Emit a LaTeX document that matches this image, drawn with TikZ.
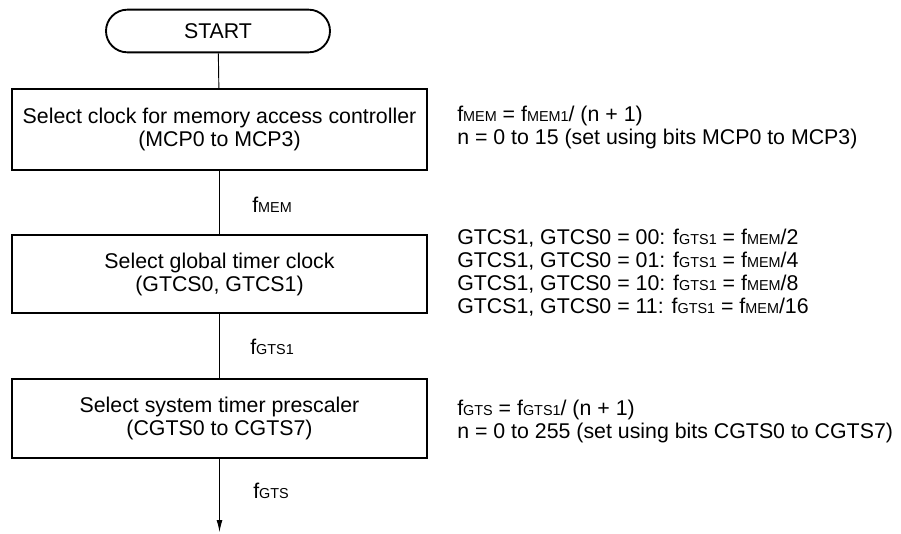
\documentclass[tikz,border=0pt]{standalone}
\usepackage{fontspec}
\setmainfont{Liberation Sans}
\usetikzlibrary{arrows.meta}
\newcommand{\clksub}[1]{{\fontsize{10.8}{10.8}\selectfont #1}}
\tikzset{
    terminal/.style={draw, line width=1.4pt, rounded corners=16pt, minimum width=168pt, minimum height=32pt, inner sep=0pt},
    stepbox/.style={draw, line width=1.6pt, minimum width=311pt, align=center, inner sep=0pt},
    note/.style={anchor=west, align=left, inner sep=0pt},
    clk/.style={anchor=west, inner sep=0pt},
    flow/.style={line width=0.7pt},
    flowarrow/.style={-{Latex[length=9pt, width=4.5pt]}, line width=0.7pt}
}

\begin{document}
\begin{tikzpicture}[x=0.75pt, y=-0.75pt, font=\fontsize{16}{17.25}\selectfont]
    \useasboundingbox (0,0) rectangle (901,533);
    % Ablauf
    \node[terminal] (start) at (218,31) {START};
    \node[stepbox, minimum height=61pt] (mcp) at (219.5,129.5)
        {Select clock for memory access controller\\(MCP0 to MCP3)};
    \node[stepbox, minimum height=58.5pt] (gtcs) at (219.5,274)
        {Select global timer clock\\(GTCS0, GTCS1)};
    \node[stepbox, minimum height=59.25pt] (cgts) at (219.5,418.5)
        {Select system timer prescaler\\(CGTS0 to CGTS7)};
    \coordinate (out) at (219.5,532);

    \draw[flow] (start) -- (mcp);
    \draw[flow] (mcp) -- (gtcs);
    \draw[flow] (gtcs) -- (cgts);
    \draw[flowarrow] (cgts) -- (out);

    % Taktbezeichnungen an den Linien
    \node[clk] (fmem) at (252,205) {f\clksub{MEM}};
    \node[clk] (fgts1) at (250,347) {f\clksub{GTS1}};
    \node[clk] (fgts) at (253,491) {f\clksub{GTS}};

    % Erlaeuterungen rechts
    \node[note] (mcpnote) at (457,127)
        {f\clksub{MEM} = f\clksub{MEM1}/ (n + 1)\\
         n = 0 to 15 (set using bits MCP0 to MCP3)};
    \node[note] (gtcsnote) at (457,273)
        {GTCS1, GTCS0 = 00: f\clksub{GTS1} = f\clksub{MEM}/2\\
         GTCS1, GTCS0 = 01: f\clksub{GTS1} = f\clksub{MEM}/4\\
         GTCS1, GTCS0 = 10: f\clksub{GTS1} = f\clksub{MEM}/8\\
         GTCS1, GTCS0 = 11: f\clksub{GTS1} = f\clksub{MEM}/16};
    \node[note] (cgtsnote) at (457,421)
        {f\clksub{GTS} = f\clksub{GTS1}/ (n + 1)\\
         n = 0 to 255 (set using bits CGTS0 to CGTS7)};
\end{tikzpicture}
\end{document}
